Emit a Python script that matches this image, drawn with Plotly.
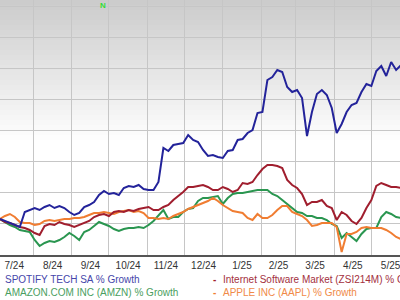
import pandas as pd
import plotly.graph_objects as go

# ---- data (% growth since start) ----
dates = pd.date_range("2024-07-05", periods=82, freq="4D")

spotify = [0, -1.6, -3.2, -4.8, -6.4, 5.6, 7.2, 8.8, 7.2, 9.6, 11.2, 8.8, 10.4, 8.8, 5.6, 3.2,
           4.8, 9.6, 11.2, 13.6, 19.2, 22.4, 20, 20.8, 19.2, 24.8, 26.4, 25.6, 27.2, 24, 23.2, 23.2,
           29.6, 56.8, 54.4, 59.2, 60, 60.8, 67.2, 63.2, 61.6, 55.2, 50.4, 51.2, 49.6, 48.8, 54.4, 55.2,
           63.2, 64, 68.8, 71.2, 84.8, 85.6, 111.2, 113.6, 119.2, 117.6, 105.6, 101.6, 103.2, 96.8,
           66.4, 85.6, 100, 103.2, 99.2, 88.8, 68.8, 76, 85.6, 91.2, 92.8, 101.6, 108, 106.4, 118.4,
           122.4, 114.4, 125.6, 119.2, 123.2]

internet_sw = [0, -2.4, -3.2, -4.8, -6.4, -7.2, -8.8, -11.2, -12.8, -5.6, -4, -4.8, -2.4, -4, -4.8, -6.4,
               -4.8, -3.2, -1.6, 1.6, 3.2, 4, 2.4, 5.6, 6.4, 5.6, 7.2, 6.4, 8, 8.8, 9.6, 7.2,
               7.2, 9.6, 11.2, 15.2, 18.4, 21.6, 25.6, 25.6, 26.4, 27.2, 25.6, 23.2, 23.2, 25.6, 24, 21.6,
               23.2, 28.8, 28, 29.6, 35.2, 40, 43.2, 43.2, 42.4, 40.8, 31.2, 27.2, 24.8, 20,
               11.2, 13.6, 13.6, 15.2, 10.4, 8.8, -0.8, 5.6, 3.2, -1.6, -4, 0.8, 8.8, 15.2, 26.4,
               28.8, 27.2, 25.6, 25.6, 24.8]

amazon = [0, -2.4, -4.8, -6.4, -8.8, -9.6, -10.4, -16.8, -21.6, -19.2, -17.6, -18.4, -16.8, -14.4, -11.2, -13.6,
          -16.8, -10.4, -8.8, -5.6, -2.4, -4, -5.6, -8, -9.6, -8, -7.2, -7.2, -6.4, -7.2, -4.8, -1.6,
          3.2, 7.2, 0, 1.6, 1.6, 5.6, 8, 8.8, 14.4, 16.8, 16.8, 17.6, 18.4, 12, 16.8, 20,
          20.8, 20.8, 21.6, 22.4, 23.2, 23.2, 23.2, 20, 18.4, 15.2, 12, 8.8, 5.6, 4.8,
          2.4, 2.4, 0.8, 0.8, -0.8, -4, -5.6, -15.2, -11.2, -14.4, -17.6, -12, -8, -7.2, -7.2,
          1.6, 5.6, 4, 1.6, 0.8]

apple = [0, 2.4, 4, 1.6, -2.4, -3.2, -3.2, -4.8, -4, -1.6, -0.8, -1.6, -0.8, 0, 0, 0.8,
         0.8, 1.6, 3.2, 4.8, 4.8, 5.6, 4.8, 4, 5.6, 6.4, 7.2, 5.6, 6.4, 4.8, 0.8, 0.8,
         0, 0.8, 0, 2.4, 4, 5.6, 8, 9.6, 11.2, 12.8, 14.4, 16.8, 14.4, 11.2, 8.8, 6.4,
         5.6, 4.8, 0.8, -0.8, 4, 0.8, 0.8, 3.2, 7.2, 10.4, 10.4, 5.6, 4, 2.4,
         -0.8, -5.6, -4.8, -3.2, -3.2, -3.2, -6.4, -26.4, -12, -12, -10.4, -7.2, -6.4, -7.2, -7.2,
         -7.2, -8.8, -11.2, -14.4, -16]

month_labels = ["7/24", "8/24", "9/24", "10/24", "11/24", "12/24",
                "1/25", "2/25", "3/25", "4/25", "5/25"]

names = ["SPOTIFY TECH SA % Growth", "Internet Software Market (ZSI214M) % Growth",
         "AMAZON.COM INC (AMZN) % Growth", "APPLE INC (AAPL) % Growth"]
line_colors = ["#23239a", "#a01e2e", "#2a9650", "#f07d32"]
text_colors = ["#4646aa", "#a3303e", "#4a9e60", "#f08a48"]

# month label positions: middle of each month
month_starts = pd.date_range("2024-07-01", periods=len(month_labels) + 1, freq="MS")
month_mids = [month_starts[i] + (month_starts[i + 1] - month_starts[i]) / 2
              for i in range(len(month_labels))]

fig = go.Figure()
order = [2, 3, 1, 0]
series = [spotify, internet_sw, amazon, apple]
for i in order:
    fig.add_trace(go.Scatter(x=dates, y=series[i], mode="lines", name=names[i],
                             line=dict(color=line_colors[i], width=2), showlegend=False))

# background gradient (grey at top fading to white)
PLOT_H = 255
nb = 28
for b in range(nb):
    g = int(round(204 + (255 - 204) * b / nb))
    fig.add_shape(type="rect", xref="paper", yref="paper", x0=0, x1=1,
                  y0=1 - (b + 1) * 5 / PLOT_H, y1=1 - b * 5 / PLOT_H,
                  fillcolor=f"rgb({g},{g},{g})", line=dict(width=0), layer="below")

# legend as text rows (left column markers fall outside the crop)
legend_pos = [(0.0075, -24), (0.5525, -24), (0.0075, -37), (0.5525, -37)]
for i in range(4):
    x, dy = legend_pos[i]
    y = dy / PLOT_H
    fig.add_annotation(text=names[i], x=x, y=y, xref="paper", yref="paper",
                       xanchor="left", yanchor="middle", showarrow=False,
                       font=dict(size=10, color=text_colors[i], family="Liberation Sans, Arial"))
    if x > 0.1:
        fig.add_annotation(text="<b>-</b>", x=x - 0.0175, y=y, xref="paper", yref="paper",
                           xanchor="center", yanchor="middle", showarrow=False,
                           font=dict(size=10, color=line_colors[i], family="Liberation Sans, Arial"))

fig.add_annotation(text="<b>N</b>", x=103 / 400, y=1, xref="paper", yref="paper",
                   xanchor="center", yanchor="top", showarrow=False, borderpad=0,
                   font=dict(size=8, color="#33dd33", family="Liberation Sans, Arial"))

fig.update_xaxes(range=["2024-07-05", "2025-05-24 03:00"],
                 tickmode="array", tickvals=month_mids, ticktext=month_labels,
                 ticklabeloverflow="allow",
                 showgrid=False, showline=True, linecolor="#555555", linewidth=2, ticks="",
                 tickfont=dict(size=10, color="#333333", family="Liberation Sans, Arial"),
                 minor=dict(tickmode="linear", tick0="2024-07-01", dtick="M1", showgrid=True,
                            gridcolor="#c6c6c6", gridwidth=1, ticks=""),
                 zeroline=False)
fig.update_yaxes(range=[-28.8, 175.2], dtick=24.8, tick0=-3.2, showgrid=True,
                 gridcolor="#c6c6c6", gridwidth=1, showticklabels=False, zeroline=False,
                 ticks="")

fig.update_layout(width=400, height=300, margin=dict(l=0, r=0, t=0, b=45),
                  plot_bgcolor="white", paper_bgcolor="white", showlegend=False)

fig.write_html("out.html")
